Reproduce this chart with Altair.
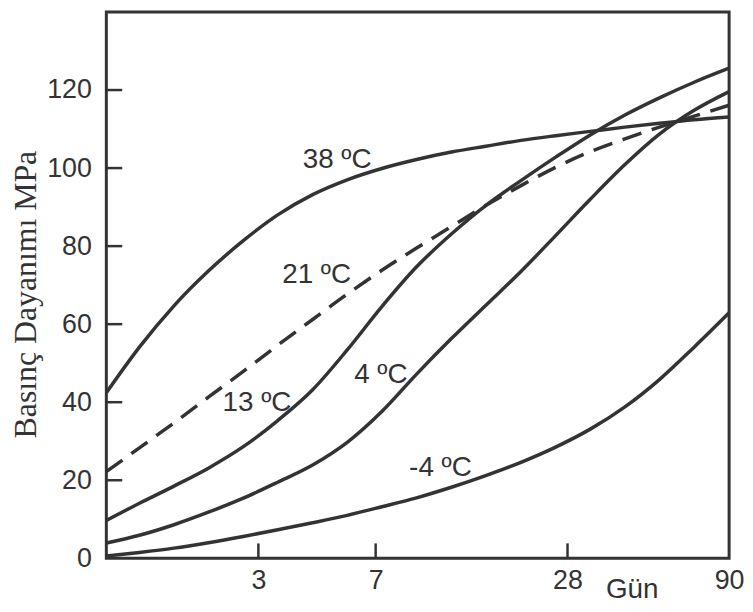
import altair as alt
import pandas as pd

# ---- data (x = Gün / days, log scale; y = MPa) ----
days = [1, 1.27, 1.63, 2.09, 2.69, 3.45, 4.44, 5.7, 7.32, 9.41, 12.1, 15.5,
        20.0, 25.7, 33.0, 42.4, 54.4, 69.9, 90]

vals_38 = [42.4, 54.1, 64.7, 73.6, 81.4, 88.0, 93.2, 97.0, 99.9, 102.2, 104.1, 105.6,
           107.1, 108.3, 109.4, 110.5, 111.5, 112.4, 113.1]
vals_21 = [22.2, 28.3, 34.7, 41.3, 47.9, 54.6, 61.2, 67.7, 73.8, 79.5, 85.0, 90.4,
           95.5, 100.2, 104.2, 107.5, 110.5, 113.3, 116.1]
vals_13 = [9.7, 14.1, 18.5, 23.1, 28.6, 35.3, 43.2, 53.4, 64.5, 74.7, 83.1, 90.4,
           96.8, 102.8, 108.5, 113.6, 118.0, 122.0, 125.6]
vals_4 = [3.9, 5.9, 8.6, 11.8, 15.4, 19.5, 23.9, 29.7, 37.6, 47.2, 56.3, 64.8,
          73.5, 82.7, 92.0, 100.9, 108.7, 114.8, 119.6]
vals_m4 = [0.6, 1.5, 2.6, 4.0, 5.6, 7.3, 9.1, 11.0, 13.2, 15.5, 18.2, 21.2,
           24.6, 28.5, 33.1, 38.8, 45.8, 54.1, 62.9]

label_texts = ["38 ºC", "21 ºC", "13 ºC", "4 ºC", "-4 ºC"]
label_days = [5.3, 4.57, 2.97, 7.27, 11.18]
label_vals = [102, 72.5, 39.8, 46.9, 23.1]

x_ticks = [3, 7, 28, 90]
y_ticks = [0, 20, 40, 60, 80, 100, 120]
x_inner_ticks = [3, 7, 28]
y_inner_ticks = [20, 40, 60, 80, 100, 120]

INK = "#333333"
SANS = "Liberation Sans"

solid_rows = []
for name, vs in [("38", vals_38), ("13", vals_13), ("4", vals_4), ("-4", vals_m4)]:
    for d, v in zip(days, vs):
        solid_rows.append({"series": name, "day": d, "val": v})
solid_df = pd.DataFrame(solid_rows)
dash_df = pd.DataFrame({"series": "21", "day": days, "val": vals_21})
label_df = pd.DataFrame({"t": label_texts, "day": label_days, "val": label_vals})
xt_df = pd.DataFrame({"day": x_inner_ticks})
yt_df = pd.DataFrame({"val": y_inner_ticks})

xscale = alt.Scale(type="log", domain=[1, 90], nice=False)
yscale = alt.Scale(domain=[0, 140], nice=False)

x_axis = alt.Axis(values=x_ticks, format="d", labelFontSize=27, labelFont=SANS,
                  labelColor=INK, labelPadding=9, ticks=False, tickSize=0,
                  domain=False, grid=False, labelFlush=False, labelOverlap=False,
                  labelBound=False, title="Gün", titleFont=SANS, titleFontSize=28,
                  titleFontWeight="normal", titleColor=INK, titleX=529, titleY=39,
                  titleBaseline="alphabetic", titleAlign="center")
y_axis = alt.Axis(values=y_ticks, labelFontSize=27, labelFont=SANS, labelColor=INK,
                  labelPadding=15, ticks=False, tickSize=0, domain=False, grid=False,
                  labelOverlap=False, labelBound=False,
                  title="Basınç Dayanımı MPa", titleFont="Liberation Serif",
                  titleFontSize=32, titleFontWeight="normal", titleColor=INK,
                  titleAngle=270, titleX=-71, titleY=284, titleBaseline="alphabetic",
                  titleAlign="center")

solid = alt.Chart(solid_df).mark_line(color=INK, strokeWidth=3.5, interpolate="monotone").encode(
    x=alt.X("day:Q", scale=xscale, axis=x_axis),
    y=alt.Y("val:Q", scale=yscale, axis=y_axis),
    detail="series:N",
)
dashed = alt.Chart(dash_df).mark_line(color=INK, strokeWidth=3.5, strokeDash=[20, 11],
                                      interpolate="monotone").encode(
    x=alt.X("day:Q", scale=xscale),
    y=alt.Y("val:Q", scale=yscale),
)
labels = alt.Chart(label_df).mark_text(font=SANS, fontSize=28, color=INK,
                                       align="center", baseline="middle").encode(
    x=alt.X("day:Q", scale=xscale),
    y=alt.Y("val:Q", scale=yscale),
    text="t:N",
)
xt = alt.Chart(xt_df).mark_rule(color=INK, strokeWidth=2.5).encode(
    x=alt.X("day:Q", scale=xscale),
    y=alt.value(550),
    y2=alt.value(535),
)
yt = alt.Chart(yt_df).mark_rule(color=INK, strokeWidth=2.5).encode(
    y=alt.Y("val:Q", scale=yscale),
    x=alt.value(0),
    x2=alt.value(16),
)

chart = alt.layer(solid, dashed, labels, xt, yt).properties(
    width=627, height=550,
    autosize=alt.AutoSizeParams(type="none"),
    padding={"left": 99, "top": 2, "right": 16, "bottom": 44},
    background="white",
).configure_view(stroke=INK, strokeWidth=3)

chart.save("out.html", embed_options={"renderer": "svg", "actions": False})
